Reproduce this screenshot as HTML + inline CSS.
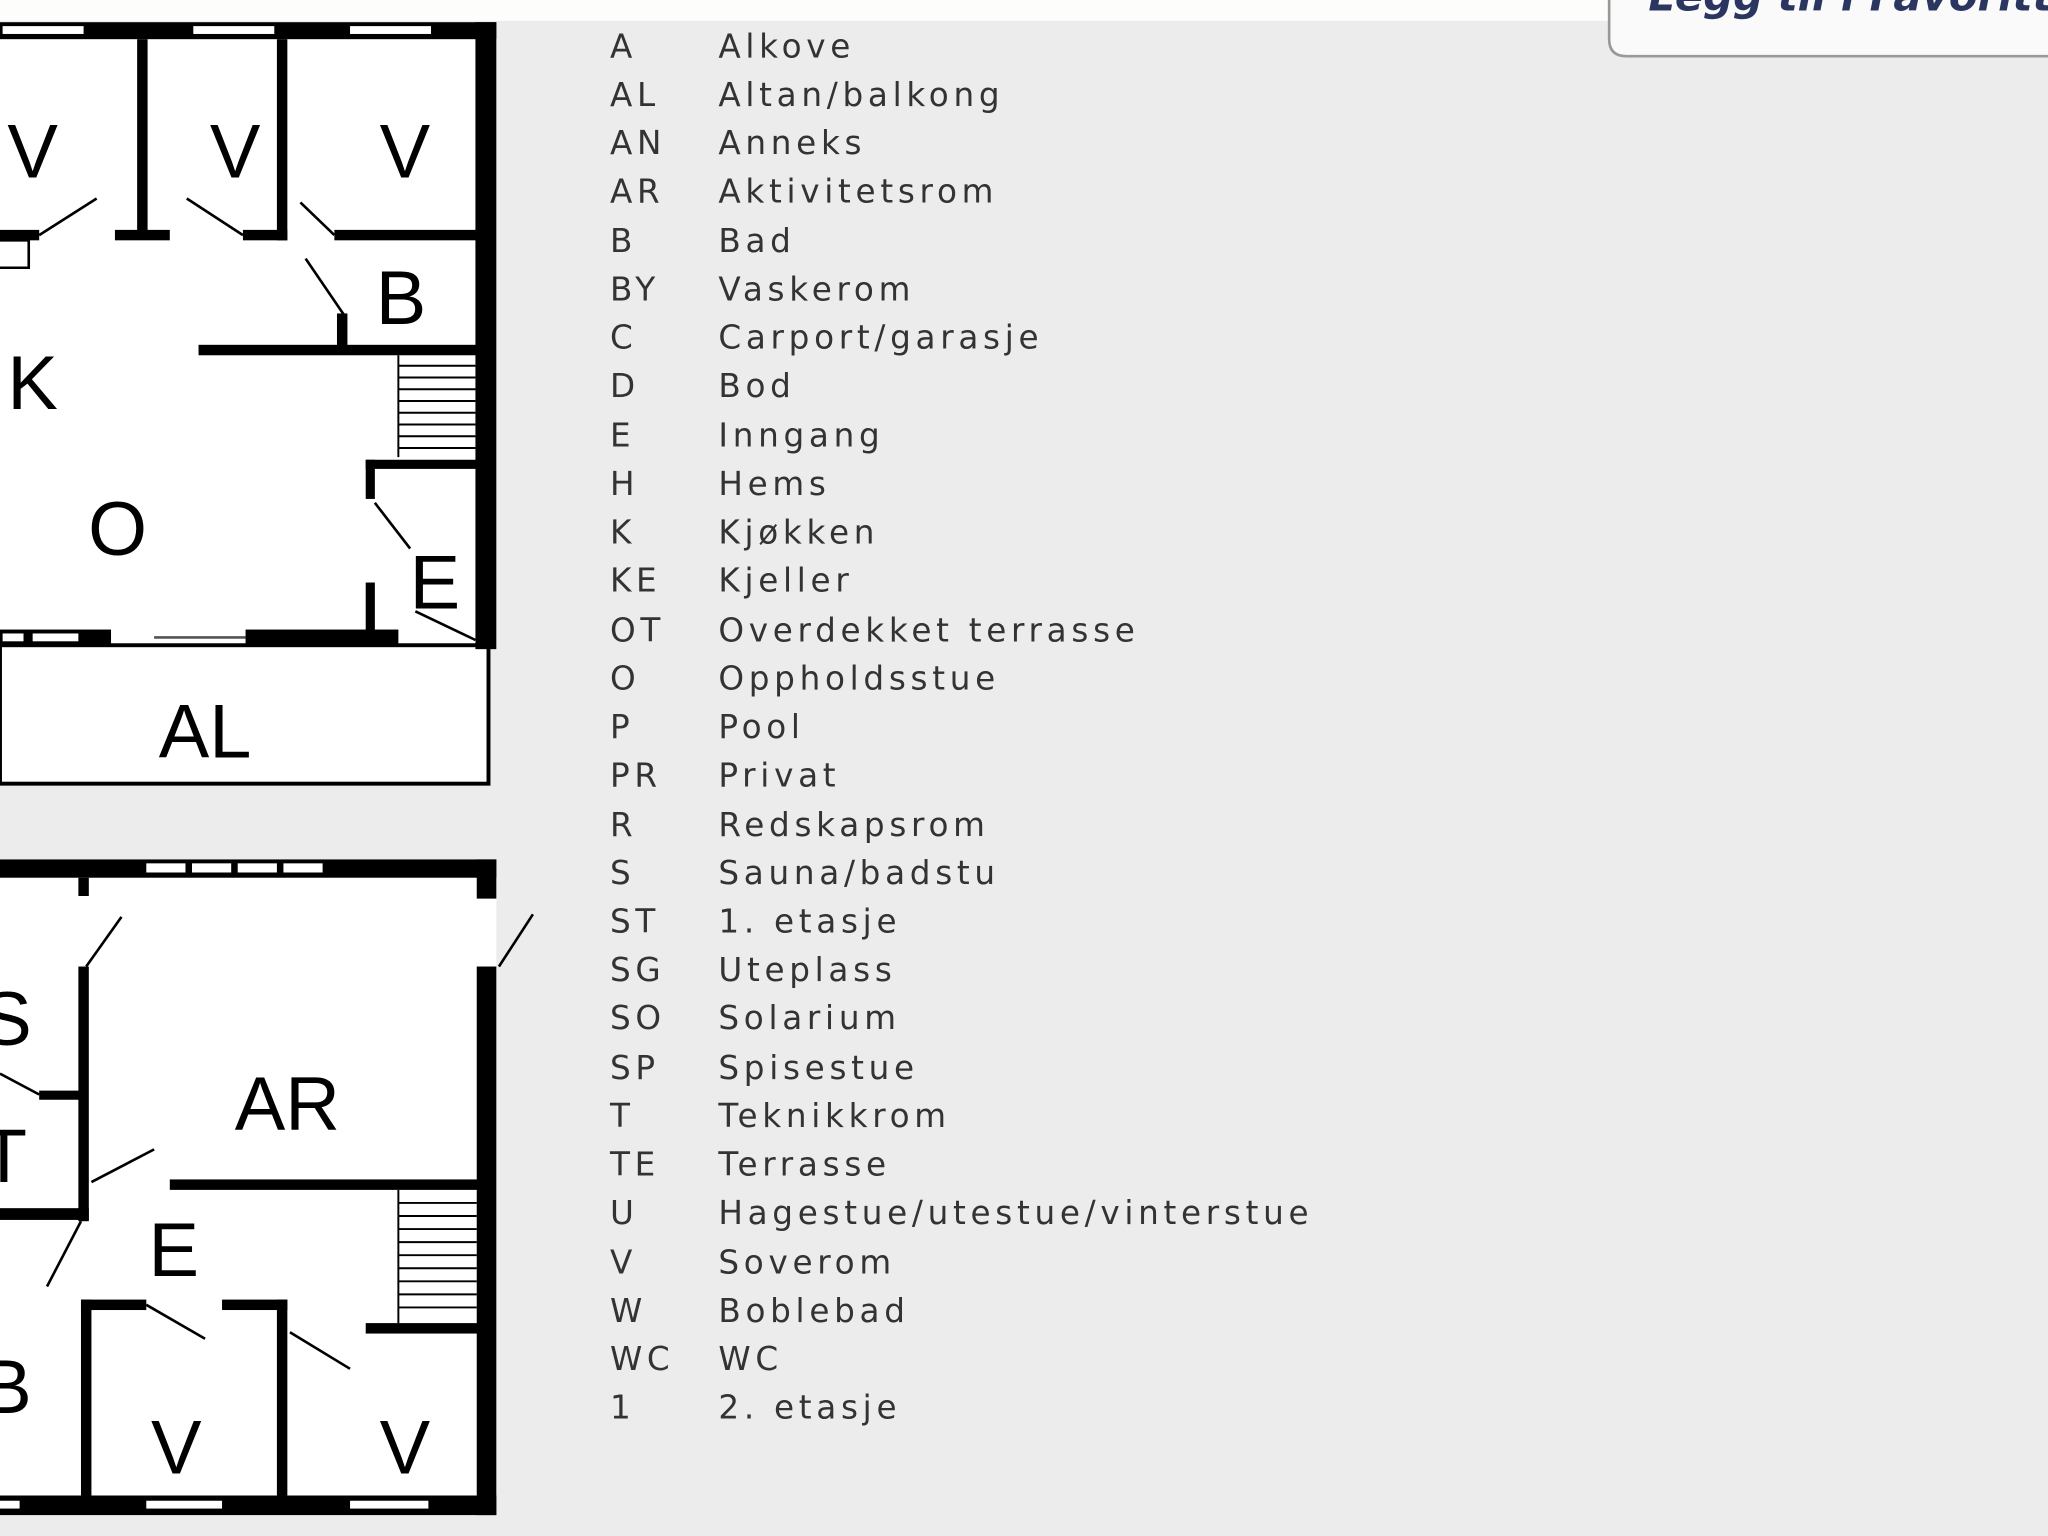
<!DOCTYPE html>
<html><head><meta charset="utf-8"><style>
html,body{margin:0;padding:0;background:#ececec;}
svg{display:block}
text{font-family:"DejaVu Sans","Liberation Sans",sans-serif}
.lg{font-size:25px;fill:#333;letter-spacing:3.6px}
.rl{font-family:"Liberation Sans",sans-serif;font-size:58px;fill:#000}
</style></head><body>
<svg width="2048" height="1536" viewBox="0 0 1568 1176" preserveAspectRatio="none" xmlns="http://www.w3.org/2000/svg">
<rect x="0" y="0" width="1568" height="1176" fill="#ececec"/>
<rect x="0" y="0" width="1240" height="16" fill="#fdfdfb"/>
<!-- button -->
<path d="M1232,-5 L1232,30 Q1232,43 1245,43 L1570,43 L1570,-5 Z" fill="#fafafa" stroke="#999" stroke-width="2"/>
<text x="1262" y="8" style="font-family:'DejaVu Sans',sans-serif;font-size:32px;font-weight:bold;font-style:italic;fill:#2a3560">Legg til i Favoritter</text>

<!-- TOP PLAN -->
<rect x="0" y="17" width="380" height="480" fill="#fff"/>
<rect x="0" y="494" width="374" height="106" fill="#fff" stroke="#000" stroke-width="3"/>
<g fill="#000">
<rect x="0" y="17" width="380" height="13"/>
<rect x="364" y="17" width="16" height="480"/>
<rect x="105" y="30" width="8" height="152"/>
<rect x="88" y="176" width="42" height="8"/>
<rect x="212" y="30" width="8" height="154"/>
<rect x="186" y="176" width="34" height="8"/>
<rect x="256" y="176" width="110" height="8"/>
<rect x="0" y="176" width="30" height="8"/>
<rect x="152" y="264" width="214" height="8"/>
<rect x="258" y="240" width="8" height="28"/>
<rect x="280" y="352" width="86" height="7"/>
<rect x="280" y="352" width="7" height="30"/>
<rect x="280" y="446" width="7" height="38"/>
<rect x="0" y="482" width="85" height="12"/>
<rect x="188" y="482" width="117" height="12"/>
</g>
<g fill="#fff">
<rect x="2" y="20" width="62" height="6"/><rect x="148" y="20" width="62" height="6"/><rect x="268" y="20" width="62" height="6"/>
<rect x="2" y="485" width="16" height="6"/><rect x="25" y="485" width="35" height="6"/>
</g>
<line x1="118" y1="488" x2="188" y2="488" stroke="#555" stroke-width="2"/>
<g stroke="#000" stroke-width="2" fill="none">
<path d="M0,184 H22 V205 H0"/>
<line x1="30" y1="180" x2="74" y2="152"/>
<line x1="186" y1="180" x2="143" y2="152"/>
<line x1="256" y1="180" x2="230" y2="155"/>
<line x1="264" y1="242" x2="234" y2="198"/>
<line x1="287" y1="385" x2="314" y2="420"/>
<line x1="318" y1="468" x2="364" y2="490"/>
</g>
<g stroke="#000" stroke-width="1.5">
<line x1="305" y1="272" x2="305" y2="350"/>
<line x1="305" y1="280" x2="364" y2="280"/><line x1="305" y1="289" x2="364" y2="289"/><line x1="305" y1="298" x2="364" y2="298"/><line x1="305" y1="307" x2="364" y2="307"/><line x1="305" y1="316" x2="364" y2="316"/><line x1="305" y1="325" x2="364" y2="325"/><line x1="305" y1="334" x2="364" y2="334"/><line x1="305" y1="343" x2="364" y2="343"/>
</g>
<text class="rl" x="25" y="136" text-anchor="middle">V</text>
<text class="rl" x="180" y="136" text-anchor="middle">V</text>
<text class="rl" x="310" y="136" text-anchor="middle">V</text>
<text class="rl" x="307" y="248" text-anchor="middle">B</text>
<text class="rl" x="25" y="313" text-anchor="middle">K</text>
<text class="rl" x="90" y="425" text-anchor="middle">O</text>
<text class="rl" x="333" y="466" text-anchor="middle">E</text>
<text class="rl" x="157" y="580" text-anchor="middle">AL</text>

<!-- BOTTOM PLAN -->
<rect x="0" y="658" width="380" height="502" fill="#fff"/>
<g fill="#000">
<rect x="0" y="658" width="380" height="14"/>
<rect x="365" y="658" width="15" height="30"/>
<rect x="365" y="740" width="15" height="420"/>
<rect x="60" y="672" width="8" height="14"/>
<rect x="60" y="740" width="8" height="195"/>
<rect x="30" y="835" width="36" height="7"/>
<rect x="0" y="925" width="68" height="9"/>
<rect x="130" y="903" width="236" height="8"/>
<rect x="280" y="1013" width="86" height="8"/>
<rect x="62" y="995" width="50" height="8"/>
<rect x="62" y="995" width="8" height="155"/>
<rect x="170" y="995" width="50" height="8"/>
<rect x="212" y="995" width="8" height="155"/>
<rect x="0" y="1145" width="380" height="15"/>
</g>
<g fill="#fff">
<rect x="112" y="661" width="30" height="7"/><rect x="147" y="661" width="30" height="7"/><rect x="182" y="661" width="30" height="7"/><rect x="217" y="661" width="30" height="7"/>
<rect x="0" y="1149" width="15" height="6"/><rect x="112" y="1149" width="58" height="6"/><rect x="268" y="1149" width="60" height="6"/>
</g>
<g stroke="#000" stroke-width="2" fill="none">
<line x1="66" y1="740" x2="93" y2="702"/>
<line x1="382" y1="740" x2="408" y2="700"/>
<line x1="0" y1="822" x2="30" y2="838"/>
<line x1="70" y1="905" x2="118" y2="880"/>
<line x1="62" y1="935" x2="36" y2="985"/>
<line x1="112" y1="999" x2="157" y2="1025"/>
<line x1="222" y1="1020" x2="268" y2="1048"/>
</g>
<g stroke="#000" stroke-width="1.5">
<line x1="305" y1="911" x2="305" y2="1013"/>
<line x1="305" y1="921" x2="365" y2="921"/><line x1="305" y1="931" x2="365" y2="931"/><line x1="305" y1="941" x2="365" y2="941"/><line x1="305" y1="951" x2="365" y2="951"/><line x1="305" y1="961" x2="365" y2="961"/><line x1="305" y1="971" x2="365" y2="971"/><line x1="305" y1="981" x2="365" y2="981"/><line x1="305" y1="991" x2="365" y2="991"/><line x1="305" y1="1001" x2="365" y2="1001"/>
</g>
<text class="rl" x="5" y="800" text-anchor="middle">S</text>
<text class="rl" x="220" y="865" text-anchor="middle">AR</text>
<text class="rl" x="3" y="905" text-anchor="middle">T</text>
<text class="rl" x="133" y="977" text-anchor="middle">E</text>
<text class="rl" x="5" y="1082" text-anchor="middle">B</text>
<text class="rl" x="135" y="1128" text-anchor="middle">V</text>
<text class="rl" x="310" y="1128" text-anchor="middle">V</text>

<!-- LEGEND -->
<g class="lg">
<text x="467" y="44">A</text><text x="550" y="44">Alkove</text>
<text x="467" y="81">AL</text><text x="550" y="81">Altan/balkong</text>
<text x="467" y="118">AN</text><text x="550" y="118">Anneks</text>
<text x="467" y="155">AR</text><text x="550" y="155">Aktivitetsrom</text>
<text x="467" y="193">B</text><text x="550" y="193">Bad</text>
<text x="467" y="230">BY</text><text x="550" y="230">Vaskerom</text>
<text x="467" y="267">C</text><text x="550" y="267">Carport/garasje</text>
<text x="467" y="304">D</text><text x="550" y="304">Bod</text>
<text x="467" y="342">E</text><text x="550" y="342">Inngang</text>
<text x="467" y="379">H</text><text x="550" y="379">Hems</text>
<text x="467" y="416">K</text><text x="550" y="416">Kjøkken</text>
<text x="467" y="453">KE</text><text x="550" y="453">Kjeller</text>
<text x="467" y="491">OT</text><text x="550" y="491">Overdekket terrasse</text>
<text x="467" y="528">O</text><text x="550" y="528">Oppholdsstue</text>
<text x="467" y="565">P</text><text x="550" y="565">Pool</text>
<text x="467" y="602">PR</text><text x="550" y="602">Privat</text>
<text x="467" y="640">R</text><text x="550" y="640">Redskapsrom</text>
<text x="467" y="677">S</text><text x="550" y="677">Sauna/badstu</text>
<text x="467" y="714">ST</text><text x="550" y="714">1. etasje</text>
<text x="467" y="751">SG</text><text x="550" y="751">Uteplass</text>
<text x="467" y="788">SO</text><text x="550" y="788">Solarium</text>
<text x="467" y="826">SP</text><text x="550" y="826">Spisestue</text>
<text x="467" y="863">T</text><text x="550" y="863">Teknikkrom</text>
<text x="467" y="900">TE</text><text x="550" y="900">Terrasse</text>
<text x="467" y="937">U</text><text x="550" y="937">Hagestue/utestue/vinterstue</text>
<text x="467" y="975">V</text><text x="550" y="975">Soverom</text>
<text x="467" y="1012">W</text><text x="550" y="1012">Boblebad</text>
<text x="467" y="1049">WC</text><text x="550" y="1049">WC</text>
<text x="467" y="1086">1</text><text x="550" y="1086">2. etasje</text>
</g>
</svg>
</body></html>
